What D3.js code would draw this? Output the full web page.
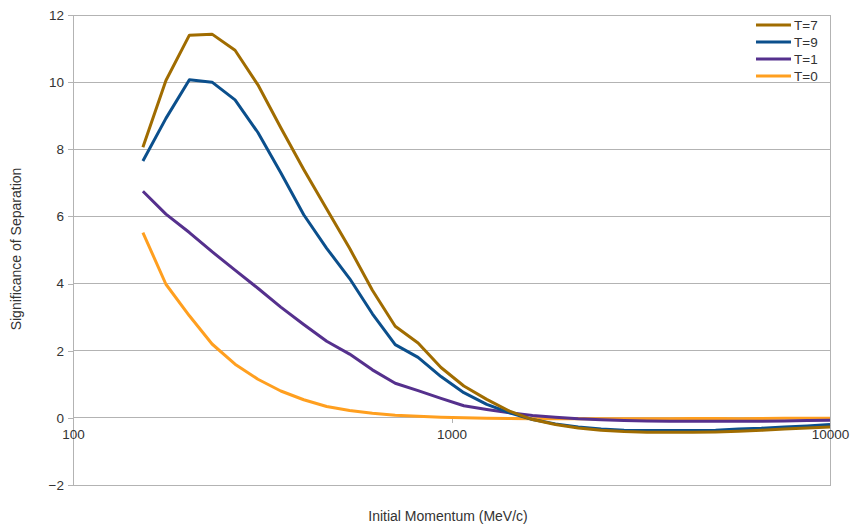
<!DOCTYPE html>
<html>
<head>
<meta charset="utf-8">
<script src="https://cdn.jsdelivr.net/npm/d3@7"></script>
<style>
  html, body { margin: 0; padding: 0; background: #fff; }
  svg { display: block; }
  text { font-family: "Liberation Sans", Arial, sans-serif; fill: #333; }
</style>
</head>
<body>
<svg id="chart" width="854" height="529"></svg>
<script>
// ---- data ----
const momentum = [153, 176, 203, 233, 268, 308, 354, 407, 468, 538, 618, 710, 816, 938, 1078, 1239,
  1424, 1637, 1881, 2162, 2485, 2857, 3283, 3774, 4338, 4986, 5731, 6587, 7571, 8702, 10000];

const seriesNames = ["T=7", "T=9", "T=1", "T=0"];
const seriesColors = ["#a06c00", "#0b4f8c", "#55308d", "#ff9f1f"];

const t7 = [8.06, 10.05, 11.40, 11.43, 10.95, 9.92, 8.64, 7.40, 6.22, 5.05, 3.80, 2.73, 2.23, 1.50, 0.95, 0.55,
  0.20, -0.05, -0.20, -0.30, -0.37, -0.41, -0.43, -0.43, -0.43, -0.42, -0.40, -0.37, -0.33, -0.30, -0.27];
const t9 = [7.65, 8.92, 10.07, 10.00, 9.47, 8.50, 7.30, 6.05, 5.05, 4.15, 3.10, 2.18, 1.80, 1.23, 0.75, 0.40,
  0.15, -0.05, -0.18, -0.27, -0.33, -0.37, -0.38, -0.38, -0.38, -0.37, -0.33, -0.31, -0.27, -0.24, -0.20];
const t1 = [6.75, 6.07, 5.52, 4.95, 4.40, 3.86, 3.30, 2.78, 2.28, 1.90, 1.43, 1.03, 0.81, 0.58, 0.36, 0.25,
  0.15, 0.07, 0.02, -0.03, -0.06, -0.08, -0.09, -0.10, -0.10, -0.10, -0.10, -0.10, -0.09, -0.08, -0.07];
const t0 = [5.52, 3.98, 3.04, 2.20, 1.60, 1.15, 0.80, 0.54, 0.34, 0.22, 0.14, 0.08, 0.05, 0.02, 0.00, -0.01,
  -0.02, -0.03, -0.03, -0.03, -0.03, -0.03, -0.03, -0.03, -0.02, -0.02, -0.03, -0.02, -0.01, -0.01, -0.01];

const seriesValues = [t7, t9, t1, t0];

const xTicks = [100, 1000, 10000];
const yTicks = [-2, 0, 2, 4, 6, 8, 10, 12];

// ---- layout ----
const svg = d3.select("#chart");
const plotLeft = 73, plotRight = 830, plotTop = 15, plotBottom = 485;

const x = d3.scaleLog().domain([100, 10000]).range([plotLeft, plotRight]);
const y = d3.scaleLinear().domain([-2, 12]).range([plotBottom, plotTop]);

const gridColor = "#b3b3b3";

// gridlines
svg.append("g").selectAll("line").data(yTicks).join("line")
  .attr("x1", plotLeft).attr("x2", plotRight)
  .attr("y1", d => y(d)).attr("y2", d => y(d))
  .attr("stroke", gridColor).attr("stroke-width", 1)
  .attr("shape-rendering", "crispEdges");

// border
svg.append("rect")
  .attr("x", plotLeft).attr("y", plotTop)
  .attr("width", plotRight - plotLeft).attr("height", plotBottom - plotTop)
  .attr("fill", "none").attr("stroke", gridColor).attr("stroke-width", 1)
  .attr("shape-rendering", "crispEdges");

// y axis
const yAxis = d3.axisLeft(y).tickValues(yTicks).tickSize(5).tickPadding(4).tickFormat(d3.format("d"));
const gy = svg.append("g").attr("transform", `translate(${plotLeft},0)`).call(yAxis);
gy.select(".domain").remove();
gy.selectAll(".tick line").attr("stroke", gridColor).attr("shape-rendering", "crispEdges");
gy.selectAll(".tick text").attr("font-size", 13.5).attr("fill", "#333")
  .attr("font-family", "Liberation Sans, Arial, sans-serif");

// x axis at y = 0
const xAxis = d3.axisBottom(x).tickValues(xTicks).tickSize(5).tickPadding(7).tickFormat(d3.format("d"));
const gx = svg.append("g").attr("transform", `translate(0,${y(0)})`).call(xAxis);
gx.select(".domain").remove();
gx.selectAll(".tick line").attr("stroke", gridColor).attr("shape-rendering", "crispEdges");
gx.selectAll(".tick text").attr("font-size", 13.5).attr("fill", "#333")
  .attr("font-family", "Liberation Sans, Arial, sans-serif");

// lines (draw T=0 first so T=7 ends on top)
const line = d3.line().x((d, i) => x(momentum[i])).y(d => y(d));
const order = [3, 2, 1, 0];
svg.append("g").selectAll("path").data(order).join("path")
  .attr("d", k => line(seriesValues[k]))
  .attr("fill", "none")
  .attr("stroke", k => seriesColors[k])
  .attr("stroke-width", 3)
  .attr("stroke-linejoin", "round");

// legend
const lg = svg.append("g");
seriesNames.forEach((name, i) => {
  const yy = 25 + i * 17;
  lg.append("line").attr("x1", 756).attr("x2", 791).attr("y1", yy).attr("y2", yy)
    .attr("stroke", seriesColors[i]).attr("stroke-width", 3);
  lg.append("text").attr("x", 794).attr("y", yy).attr("dy", "0.35em")
    .attr("font-size", 13.5).text(name);
});

// axis titles
svg.append("text").attr("x", 448).attr("y", 521).attr("text-anchor", "middle")
  .attr("font-size", 14).text("Initial Momentum (MeV/c)");
svg.append("text")
  .attr("transform", "translate(21,249) rotate(-90)")
  .attr("text-anchor", "middle").attr("font-size", 14)
  .text("Significance of Separation");
</script>
</body>
</html>
